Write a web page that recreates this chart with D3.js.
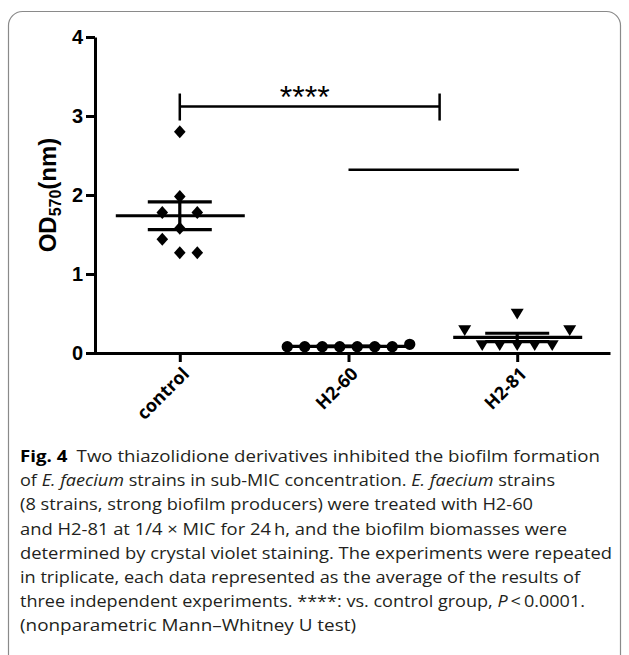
<!DOCTYPE html>
<html>
<head>
<meta charset="utf-8">
<script src="https://cdn.jsdelivr.net/npm/d3@7"></script>
<style>
  body { margin: 0; background: #fff; }
</style>
</head>
<body>
<svg></svg>
<script>
// groups and OD570 readings (8 strains each)
var categories = ["control", "H2-60", "H2-81"];
var controlVals = [2.80, 1.98, 1.78, 1.78, 1.58, 1.44, 1.27, 1.27];
var h260Vals = [0.08, 0.08, 0.08, 0.08, 0.08, 0.08, 0.08, 0.11];
var h281Vals = [0.50, 0.29, 0.29, 0.10, 0.10, 0.10, 0.10, 0.10];
var yTicks = [0, 1, 2, 3, 4];
// significance bracket (x in group index units) and the extra line
var bracket = { from: 0, to: 1.54, y: 3.12, label: "****" };
var extraLine = { from: 1, to: 2.01, y: 2.32 };

var captionLines = [
  [{t: "Fig. 4", b: true}, {t: "\u2002Two thiazolidione derivatives inhibited the biofilm formation"}],
  [{t: "of "}, {t: "E. faecium", i: true}, {t: " strains in sub-MIC concentration. "}, {t: "E. faecium", i: true}, {t: " strains"}],
  [{t: "(8 strains, strong biofilm producers) were treated with H2-60"}],
  [{t: "and H2-81 at 1/4 \u00d7 MIC for 24\u2009h, and the biofilm biomasses were"}],
  [{t: "determined by crystal violet staining. The experiments were repeated"}],
  [{t: "in triplicate, each data represented as the average of the results of"}],
  [{t: "three independent experiments. ****: vs. control group, "}, {t: "P", i: true}, {t: "\u2009<\u20090.0001."}],
  [{t: "(nonparametric Mann\u2013Whitney U test)"}]
];
var captionWidths = [580, 535, 513, 547, 592, 560, 565, 336];

var drawChart = function()
{
  var screen = { width: 629, height: 655 };
  var svg = d3.select('svg')
              .attr('width', screen.width)
              .attr('height', screen.height);

  // card
  svg.append('rect')
     .attr('x', 8.5).attr('y', 11.5)
     .attr('width', 612).attr('height', 660)
     .attr('rx', 14)
     .attr('fill', 'none')
     .attr('stroke', '#8a8a8a')
     .attr('stroke-width', 1.2);

  var y = d3.scaleLinear().domain([0, 4]).range([353, 37]);
  var x = d3.scalePoint().domain(categories).range([87, 610]).padding(0.55);
  var xAt = function(i) { return x(categories[0]) + i * x.step(); };

  var plot = svg.append('g');

  // y axis
  var yAxis = plot.append('g')
      .attr('transform', 'translate(95,0)')
      .call(d3.axisLeft(y).tickValues(yTicks).tickFormat(d3.format('d')).tickSize(9).tickSizeOuter(0));
  yAxis.selectAll('path, line').attr('stroke', '#000').attr('stroke-width', 3);
  yAxis.selectAll('text')
       .attr('font-family', 'Liberation Sans, Arial, sans-serif')
       .attr('font-weight', 'bold')
       .attr('font-size', 20)
       .attr('fill', '#000')
       .attr('x', -12);

  // x axis
  var xAxis = plot.append('g')
      .attr('transform', 'translate(0,' + y(0) + ')')
      .call(d3.axisBottom(x).tickSize(9).tickSizeOuter(0));
  xAxis.selectAll('path, line').attr('stroke', '#000').attr('stroke-width', 3);
  xAxis.selectAll('text')
       .attr('font-family', 'Open Sans, sans-serif')
       .attr('font-weight', 700)
       .attr('font-size', 18)
       .attr('fill', '#000')
       .attr('text-anchor', 'end')
       .attr('y', 0).attr('dy', 0)
       .attr('transform', 'translate(10,22) rotate(-45)');

  // y title
  var yt = svg.append('text')
      .attr('transform', 'translate(56,195) rotate(-90)')
      .attr('text-anchor', 'middle')
      .attr('font-family', 'Liberation Sans, Arial, sans-serif')
      .attr('font-weight', 'bold')
      .attr('font-size', 24)
      .attr('fill', '#000');
  yt.append('tspan').text('OD');
  yt.append('tspan').attr('font-size', 16).attr('dy', 5).text('570');
  yt.append('tspan').attr('dy', -5).text('(nm)');

  // beeswarm offsets: try 0, +d, -d, +2d ... then recentre the group
  var d = 17.5, minDist = 17;
  var swarm = function(vals)
  {
    var order = vals.map(function(v, i) { return i; })
                    .sort(function(a, b) { return vals[a] - vals[b]; });
    var placed = [];
    order.forEach(function(i)
    {
      var py = y(vals[i]);
      for (var k = 0; k < 40; k++)
      {
        var off = k == 0 ? 0 : (k % 2 == 1 ? 1 : -1) * Math.ceil(k / 2) * d;
        var ok = placed.every(function(p)
        {
          return Math.hypot(p.dx - off, p.py - py) >= minDist;
        });
        if (ok) { placed.push({v: vals[i], dx: off, py: py}); break; }
      }
    });
    var lo = d3.min(placed, function(p) { return p.dx; });
    var hi = d3.max(placed, function(p) { return p.dx; });
    placed.forEach(function(p) { p.dx -= (lo + hi) / 2; });
    return placed;
  };

  var groups = [
    {name: categories[0], vals: controlVals, shape: 'diamond'},
    {name: categories[1], vals: h260Vals, shape: 'circle'},
    {name: categories[2], vals: h281Vals, shape: 'tri'}
  ];

  var shapeFor = function(s)
  {
    if (s == 'diamond') return 'M0,-6.5L5.8,0L0,6.5L-5.8,0Z';
    if (s == 'circle') return d3.symbol(d3.symbolCircle, 100)();
    return 'M-6.5,-4.8L6.5,-4.8L0,6Z';
  };

  groups.forEach(function(g)
  {
    var cx = x(g.name);
    var mean = d3.mean(g.vals);
    var sem = d3.deviation(g.vals) / Math.sqrt(g.vals.length);

    plot.selectAll('.pt-' + g.shape)
        .data(swarm(g.vals))
        .enter()
        .append('path')
        .attr('class', 'pt-' + g.shape)
        .attr('d', shapeFor(g.shape))
        .attr('transform', function(p) { return 'translate(' + (cx + p.dx) + ',' + p.py + ')'; })
        .attr('fill', '#000');

    var ln = plot.append('g').attr('stroke', '#000').attr('stroke-width', 3.2);
    ln.append('line').attr('x1', cx - 64).attr('x2', cx + 65).attr('y1', y(mean)).attr('y2', y(mean));
    ln.append('line').attr('x1', cx - 32).attr('x2', cx + 32).attr('y1', y(mean + sem)).attr('y2', y(mean + sem));
    ln.append('line').attr('x1', cx - 32).attr('x2', cx + 32).attr('y1', y(mean - sem)).attr('y2', y(mean - sem));
    ln.append('line').attr('x1', cx).attr('x2', cx).attr('y1', y(mean + sem)).attr('y2', y(mean - sem));
  });

  // significance bracket
  var br = plot.append('g').attr('stroke', '#000').attr('stroke-width', 2.5);
  br.append('line').attr('x1', xAt(bracket.from)).attr('x2', xAt(bracket.to))
    .attr('y1', y(bracket.y)).attr('y2', y(bracket.y));
  [bracket.from, bracket.to].forEach(function(i)
  {
    br.append('line').attr('x1', xAt(i)).attr('x2', xAt(i))
      .attr('y1', y(bracket.y) - 13).attr('y2', y(bracket.y) + 14);
  });
  plot.append('text')
      .attr('x', (xAt(bracket.from) + xAt(bracket.to)) / 2 - 5)
      .attr('y', y(bracket.y) + 1)
      .attr('text-anchor', 'middle')
      .attr('font-family', 'Liberation Sans, Arial, sans-serif')
      .attr('font-size', 32)
      .attr('fill', '#000')
      .text(bracket.label);
  plot.append('line')
      .attr('x1', xAt(extraLine.from)).attr('x2', xAt(extraLine.to))
      .attr('y1', y(extraLine.y)).attr('y2', y(extraLine.y))
      .attr('stroke', '#000').attr('stroke-width', 2.5);

  // caption
  var cap = svg.append('g')
      .attr('font-family', 'Open Sans, sans-serif')
      .attr('font-size', 16)
      .attr('fill', '#231f20');
  cap.selectAll('text')
     .data(captionLines)
     .enter()
     .append('text')
     .attr('x', 20)
     .attr('y', function(l, i) { return 462 + i * 24.2; })
     .attr('textLength', function(l, i) { return captionWidths[i]; })
     .attr('lengthAdjust', 'spacingAndGlyphs')
     .each(function(l)
     {
       var t = d3.select(this);
       l.forEach(function(s)
       {
         t.append('tspan')
          .attr('font-weight', s.b ? 700 : 400)
          .attr('font-style', s.i ? 'italic' : 'normal')
          .attr('fill', s.b ? '#000' : null)
          .text(s.t);
       });
     });
};

drawChart();
</script>
</body>
</html>
